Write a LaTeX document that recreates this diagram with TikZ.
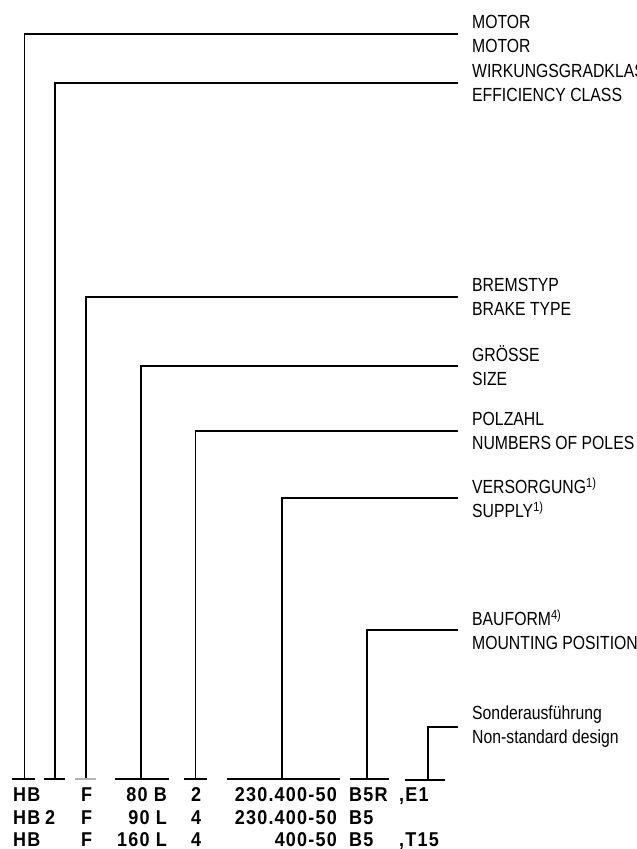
\documentclass[tikz,border=0pt]{standalone}
\usepackage{fontspec}
\setmainfont{Liberation Sans}
\newfontfamily\keyfont[FakeStretch=0.83]{Liberation Sans}
\newfontfamily\codefont[FakeStretch=0.9, LetterSpace=6]{Liberation Sans Bold}
\usetikzlibrary{positioning, calc}
\tikzset{
  keylabel/.style={
    anchor=west, align=left, inner xsep=14pt, inner ysep=0pt,
    font=\keyfont\fontsize{19}{24}\selectfont
  },
  keyline/.style={line width=1.6pt},
  keybar/.style={line width=1.8pt},
  codetext/.style={
    inner sep=0pt, font=\codefont\fontsize{20}{23}\selectfont
  },
}

\begin{document}
\begin{tikzpicture}[x=1pt, y=-1pt]
  \useasboundingbox (0,0) rectangle (637,849);

  % ── Explanations on the right ──────────────────────────────────
  \node[keylabel] (motor)   at (458, 34)  {MOTOR\\MOTOR};
  \node[keylabel] (effcls)  at (458, 83)  {WIRKUNGSGRADKLASSE\\EFFICIENCY CLASS};
  \node[keylabel] (brake)   at (458, 297) {BREMSTYP\\BRAKE TYPE};
  \node[keylabel] (size)    at (458, 366) {GRÖSSE\\SIZE};
  \node[keylabel] (poles)   at (458, 431) {POLZAHL\\NUMBERS OF POLES};
  \node[keylabel] (supply)  at (458, 498)
    {VERSORGUNG\textsuperscript{1)}\\SUPPLY\textsuperscript{1)}};
  \node[keylabel] (mount)   at (458, 630)
    {BAUFORM\textsuperscript{4)}\\MOUNTING POSITION};
  \node[keylabel] (special) at (458, 727)
    {Sonderausführung\\Non-standard design};

  % ── Feet of the leaders, above each code column ────────────────
  \coordinate (fmotor)   at (24.5, 779);
  \coordinate (feffcls)  at (55, 779);
  \coordinate (fbrake)   at (86, 779);
  \coordinate (fsize)    at (141, 779);
  \coordinate (fpoles)   at (195.5, 779);
  \coordinate (fsupply)  at (282, 779);
  \coordinate (fmount)   at (367, 779);
  \coordinate (fspecial) at (428, 780);

  % ── Leaders ────────────────────────────────────────────────────
  \draw[keyline] (motor.west)   -| (fmotor);
  \draw[keyline] (effcls.west)  -| (feffcls);
  \draw[keyline] (brake.west)   -| (fbrake);
  \draw[keyline] (size.west)    -| (fsize);
  \draw[keyline] (poles.west)   -| (fpoles);
  \draw[keyline] (supply.west)  -| (fsupply);
  \draw[keyline] (mount.west)   -| (fmount);
  \draw[keyline] (special.west) -| (fspecial);

  % ── Bars over the code columns ─────────────────────────────────
  \draw[keybar] (12, 779) -- (35, 779);
  \draw[keybar] (44, 779) -- (65, 779);
  \draw[keybar, gray!60] (75, 779) -- (96, 779);
  \draw[keybar] (115, 779) -- (169, 779);
  \draw[keybar] (184, 779) -- (207, 779);
  \draw[keybar] (227, 779) -- (340, 779);
  \draw[keybar] (350, 779) -- (389, 779);
  \draw[keybar] (405, 780) -- (445, 780);

  % ── Type codes ─────────────────────────────────────────────────
  % row 1
  \node[codetext, anchor=base west] (hb1)  at (13, 801)  {HB};
  \node[codetext, anchor=base west] (f1)   at (81, 801)  {F};
  \node[codetext, anchor=base east] (sz1)  at (167, 801) {80 B};
  \node[codetext, anchor=base west] (p1)   at (191, 801) {2};
  \node[codetext, anchor=base east] (sp1)  at (337, 801) {230.400-50};
  \node[codetext, anchor=base west] (mp1)  at (349, 801) {B5R};
  \node[codetext, anchor=base west] (sd1)  at (399, 801) {,E1};
  % row 2
  \node[codetext, anchor=base west] (hb2)  at (13, 824)  {HB};
  \node[codetext, anchor=base west] (ec2)  at (45, 824)  {2};
  \node[codetext, anchor=base west] (f2)   at (81, 824)  {F};
  \node[codetext, anchor=base east] (sz2)  at (167, 824) {90 L};
  \node[codetext, anchor=base west] (p2)   at (191, 824) {4};
  \node[codetext, anchor=base east] (sp2)  at (337, 824) {230.400-50};
  \node[codetext, anchor=base west] (mp2)  at (349, 824) {B5};
  % row 3
  \node[codetext, anchor=base west] (hb3)  at (13, 846)  {HB};
  \node[codetext, anchor=base west] (f3)   at (81, 846)  {F};
  \node[codetext, anchor=base east] (sz3)  at (167, 846) {160 L};
  \node[codetext, anchor=base west] (p3)   at (191, 846) {4};
  \node[codetext, anchor=base east] (sp3)  at (337, 846) {400-50};
  \node[codetext, anchor=base west] (mp3)  at (349, 846) {B5};
  \node[codetext, anchor=base west] (sd3)  at (399, 846) {,T15};
\end{tikzpicture}
\end{document}
